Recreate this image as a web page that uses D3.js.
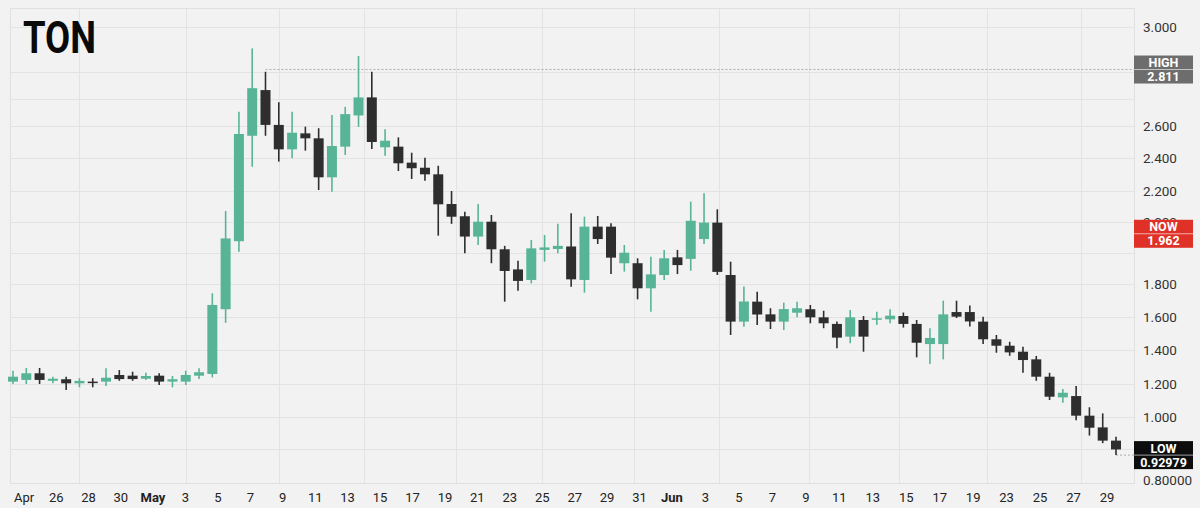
<!DOCTYPE html>
<html>
<head>
<meta charset="utf-8">
<script src="https://cdn.jsdelivr.net/npm/d3@7"></script>
<style>
html, body { margin: 0; padding: 0; background: #f2f2f2; }
svg { display: block; font-family: Roboto, "DejaVu Sans", sans-serif; }
</style>
</head>
<body>
<div id="chart"></div>
<script>

// daily OHLC, one entry per candle
const opens = [1.214, 1.224, 1.263, 1.219, 1.228, 1.204, 1.214, 1.214, 1.253, 1.249,
    1.231, 1.249, 1.214, 1.214, 1.249, 1.259, 1.647, 1.938, 2.539, 2.733,
    2.604, 2.454, 2.554, 2.523, 2.283, 2.471, 2.639, 2.706, 2.467, 2.471,
    2.372, 2.341, 2.301, 2.116, 2.037, 1.953, 2.002, 1.912, 1.847, 1.813,
    1.910, 1.913, 1.921, 1.813, 1.985, 1.985, 1.867, 1.867, 1.774, 1.829,
    1.886, 1.881, 1.945, 1.998, 1.829, 1.572, 1.693, 1.616, 1.572, 1.626,
    1.647, 1.598, 1.558, 1.481, 1.582, 1.586, 1.586, 1.606, 1.558, 1.436,
    1.436, 1.630, 1.630, 1.572, 1.465, 1.426, 1.390, 1.345, 1.243, 1.119,
    1.127, 1.008, 0.967, 0.925];

const closes = [1.243, 1.263, 1.224, 1.231, 1.204, 1.218, 1.208, 1.237, 1.229, 1.229,
    1.247, 1.214, 1.228, 1.253, 1.269, 1.673, 1.947, 2.550, 2.740, 2.604,
    2.454, 2.558, 2.523, 2.283, 2.475, 2.644, 2.706, 2.500, 2.508, 2.368,
    2.338, 2.301, 2.114, 2.034, 1.953, 2.002, 1.912, 1.842, 1.810, 1.915,
    1.918, 1.923, 1.815, 1.985, 1.945, 1.885, 1.901, 1.774, 1.831, 1.883,
    1.861, 2.008, 1.998, 1.839, 1.572, 1.694, 1.615, 1.572, 1.648, 1.653,
    1.598, 1.562, 1.475, 1.598, 1.481, 1.592, 1.608, 1.558, 1.444, 1.473,
    1.616, 1.602, 1.573, 1.465, 1.426, 1.386, 1.341, 1.243, 1.123, 1.147,
    1.008, 0.966, 0.925, 0.897];

const highs = [1.278, 1.294, 1.294, 1.243, 1.243, 1.234, 1.234, 1.292, 1.282, 1.272,
    1.266, 1.263, 1.247, 1.278, 1.292, 1.744, 2.071, 2.653, 2.905, 2.801,
    2.688, 2.653, 2.596, 2.586, 2.641, 2.671, 2.871, 2.801, 2.579, 2.529,
    2.433, 2.402, 2.353, 2.200, 2.066, 2.116, 2.045, 1.923, 1.875, 1.942,
    1.958, 1.994, 2.056, 2.034, 2.039, 1.996, 1.926, 1.883, 1.888, 1.910,
    1.910, 2.131, 2.185, 2.082, 1.872, 1.785, 1.753, 1.653, 1.687, 1.693,
    1.673, 1.638, 1.572, 1.642, 1.606, 1.632, 1.647, 1.627, 1.582, 1.532,
    1.699, 1.699, 1.670, 1.602, 1.491, 1.450, 1.420, 1.365, 1.266, 1.170,
    1.188, 1.059, 1.022, 0.937];

const lows = [1.200, 1.200, 1.200, 1.204, 1.164, 1.180, 1.180, 1.188, 1.219, 1.219,
    1.224, 1.194, 1.180, 1.194, 1.229, 1.239, 1.565, 1.904, 2.347, 2.539,
    2.378, 2.398, 2.446, 2.206, 2.195, 2.419, 2.594, 2.456, 2.414, 2.321,
    2.273, 2.262, 1.956, 1.994, 1.899, 1.926, 1.867, 1.693, 1.759, 1.802,
    1.872, 1.899, 1.784, 1.747, 1.929, 1.832, 1.840, 1.707, 1.632, 1.813,
    1.832, 1.843, 1.929, 1.829, 1.491, 1.541, 1.552, 1.527, 1.521, 1.598,
    1.562, 1.532, 1.410, 1.441, 1.390, 1.552, 1.562, 1.536, 1.357, 1.318,
    1.345, 1.594, 1.542, 1.436, 1.384, 1.366, 1.266, 1.219, 1.103, 1.087,
    0.990, 0.941, 0.917, 0.879];

const xTickLabels = ["Apr", "26", "28", "30", "May", "3", "5", "7", "9", "11", "13", "15", "17",
    "19", "21", "23", "25", "27", "29", "31", "Jun", "3", "5", "7", "9", "11", "13", "15",
    "17", "19", "23", "25", "27", "29"];
const monthLabels = ["Apr", "May", "Jun"];

const yTicks = [0.8, 1.0, 1.2, 1.4, 1.6, 1.8, 2.0, 2.2, 2.4, 2.6, 2.8, 3.0];
const yTickText = ["0.80000", "1.000", "1.200", "1.400", "1.600", "1.800", "2.000",
    "2.200", "2.400", "2.600", "2.800", "3.000"];
const extraGridValues = [0.9, 1.9, 2.7];

// vertical grid, in candle positions
const gridCandles = [5, 13, 20, 26.4, 33.3, 39.8, 46.7, 53.1, 59.9, 66.7, 73.3, 80.4];

const markerNames = ["HIGH", "NOW", "LOW"];
const markerValues = [2.811, 1.962, 0.92979];
const markerText = ["2.811", "1.962", "0.92979"];
const highFrom = 19; // candle where the high line starts

const width = 1200;
const height = 508;
const plot = {left: 10, right: 1134, top: 8, bottom: 483};
const upColor = "#58b497";
const downColor = "#2e2e2e";
const markerColors = {HIGH: "#6d6d6d", NOW: "#df3128", LOW: "#0d0d0d"};

let svg = d3.select("#chart")
    .append("svg")
    .attr("width", width)
    .attr("height", height);

svg.append("rect")
    .attr("width", width)
    .attr("height", height)
    .attr("fill", "#f2f2f2");

let x = d3.scaleLinear()
    .domain([0, opens.length - 1])
    .range([13, 1116]);

// the price axis of the original is not evenly spaced, so it is a polylinear scale
let y = d3.scaleLinear()
    .domain(yTicks)
    .range([480, 417, 384, 350, 317, 284, 222, 191, 158, 126, 72, 27]);

let xLabel = d3.scaleLinear()
    .domain([0, 4, 20, xTickLabels.length - 1])
    .range([24, 153, 672, 1107]);

// grid
let grid = svg.append("g").attr("stroke", "#e3e3e3").attr("stroke-width", 1);

grid.selectAll("line.h")
    .data(yTicks.slice(1).concat(extraGridValues))
    .join("line")
    .attr("class", "h")
    .attr("x1", plot.left)
    .attr("x2", plot.right)
    .attr("y1", d => Math.round(y(d)) + 0.5)
    .attr("y2", d => Math.round(y(d)) + 0.5);

grid.selectAll("line.v")
    .data(gridCandles)
    .join("line")
    .attr("class", "v")
    .attr("x1", d => Math.round(x(d)) + 0.5)
    .attr("x2", d => Math.round(x(d)) + 0.5)
    .attr("y1", plot.top)
    .attr("y2", plot.bottom);

svg.append("rect")
    .attr("x", plot.left + 0.5)
    .attr("y", plot.top + 0.5)
    .attr("width", plot.right - plot.left)
    .attr("height", plot.bottom - plot.top)
    .attr("fill", "none")
    .attr("stroke", "#e0e0e0");

// title
svg.append("text")
    .attr("x", 23)
    .attr("y", 53)
    .attr("font-size", 45)
    .attr("font-weight", 700)
    .attr("textLength", 73)
    .attr("lengthAdjust", "spacingAndGlyphs")
    .attr("fill", "#0a0a0a")
    .text("TON");

// high line
svg.append("line")
    .attr("x1", x(highFrom))
    .attr("x2", plot.right)
    .attr("y1", y(markerValues[0]))
    .attr("y2", y(markerValues[0]))
    .attr("stroke", "#9a9a9a")
    .attr("stroke-width", 0.8)
    .attr("stroke-dasharray", "2,2");

let lowValue = d3.min(lows);
svg.append("line")
    .attr("x1", x(lows.length - 1))
    .attr("x2", plot.right)
    .attr("y1", y(lowValue))
    .attr("y2", y(lowValue))
    .attr("stroke", "#9a9a9a")
    .attr("stroke-width", 0.8)
    .attr("stroke-dasharray", "2,2");

// candles
let candles = opens.map((o, i) => ({i: i, o: o, c: closes[i], h: highs[i], l: lows[i]}));
const bodyWidth = 10;

let g = svg.append("g");

g.selectAll("line.wick")
    .data(candles)
    .join("line")
    .attr("class", "wick")
    .attr("x1", d => x(d.i))
    .attr("x2", d => x(d.i))
    .attr("y1", d => y(d.h))
    .attr("y2", d => y(d.l))
    .attr("stroke", d => d.c >= d.o ? upColor : downColor)
    .attr("stroke-width", 1.6);

g.selectAll("rect.body")
    .data(candles)
    .join("rect")
    .attr("class", "body")
    .attr("x", d => x(d.i) - bodyWidth / 2)
    .attr("y", d => y(Math.max(d.o, d.c)))
    .attr("width", bodyWidth)
    .attr("height", d => Math.max(1.5, y(Math.min(d.o, d.c)) - y(Math.max(d.o, d.c))))
    .attr("fill", d => d.c >= d.o ? upColor : downColor);

// price labels
svg.selectAll("text.ytick")
    .data(yTicks)
    .join("text")
    .attr("class", "ytick")
    .attr("x", 1143)
    .attr("y", d => y(d))
    .attr("dy", "0.35em")
    .attr("font-size", 13.5)
    .attr("fill", "#333")
    .text((d, i) => yTickText[i]);

// date labels
svg.selectAll("text.xtick")
    .data(xTickLabels)
    .join("text")
    .attr("class", "xtick")
    .attr("x", (d, i) => xLabel(i))
    .attr("y", 497)
    .attr("dy", "0.35em")
    .attr("text-anchor", "middle")
    .attr("font-size", 13)
    .attr("font-weight", (d, i) => (i > 0 && monthLabels.includes(d)) ? 700 : 400)
    .attr("fill", "#222")
    .text(d => d);

// HIGH / NOW / LOW tags
let markerY = [y(markerValues[0]), y(markerValues[1]), y(lowValue)];

let tags = svg.selectAll("g.tag")
    .data(markerNames)
    .join("g")
    .attr("class", "tag")
    .attr("transform", (d, i) => `translate(1134, ${markerY[i]})`);

tags.append("rect")
    .attr("x", 0)
    .attr("y", -14)
    .attr("width", 59)
    .attr("height", 28)
    .attr("fill", d => markerColors[d]);

tags.append("line")
    .attr("x1", 0)
    .attr("x2", 59)
    .attr("y1", 0)
    .attr("y2", 0)
    .attr("stroke", "#ffffff")
    .attr("stroke-opacity", 0.6)
    .attr("stroke-width", 1);

tags.append("text")
    .attr("x", 29.5)
    .attr("y", -7)
    .attr("dy", "0.36em")
    .attr("text-anchor", "middle")
    .attr("font-size", 12.5)
    .attr("font-weight", 700)
    .attr("fill", "#fff")
    .text(d => d);

tags.append("text")
    .attr("x", 29.5)
    .attr("y", 7)
    .attr("dy", "0.36em")
    .attr("text-anchor", "middle")
    .attr("font-size", 12.5)
    .attr("font-weight", 700)
    .attr("fill", "#fff")
    .text((d, i) => markerText[i]);

</script>
</body>
</html>
